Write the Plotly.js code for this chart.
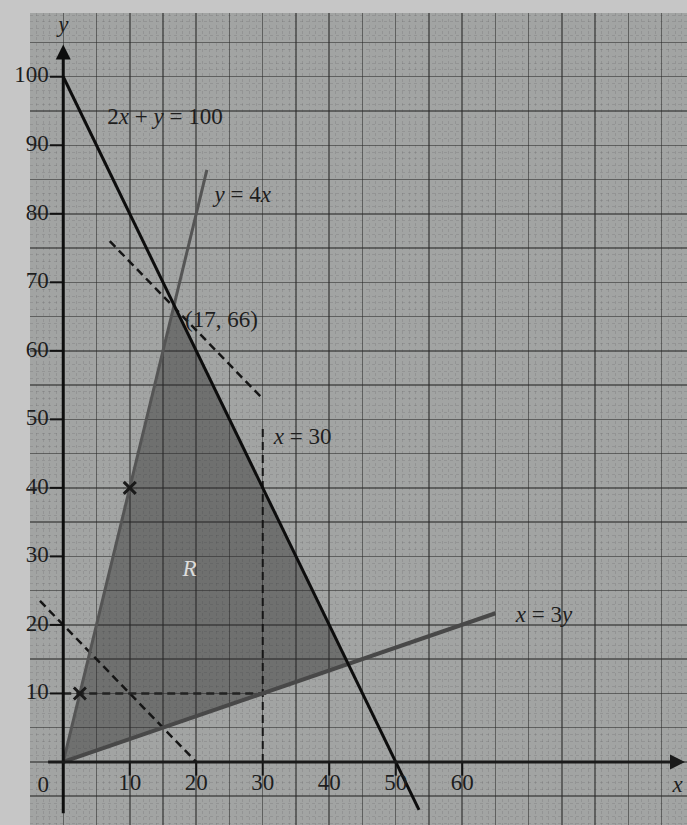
<!DOCTYPE html>
<html>
<head>
<meta charset="utf-8">
<script src="https://cdn.plot.ly/plotly-3.0.1.min.js"></script>
<style>
  body { margin: 0; background: #c6c6c6; }
  #chart { width: 687px; height: 825px; }
</style>
</head>
<body>
<div id="chart"></div>
<script>
// tick values on both axes
var tickX = [10, 20, 30, 40, 50, 60];
var tickY = [10, 20, 30, 40, 50, 60, 70, 80, 90, 100];

// constraint lines (end points)
var lineA_x = [0, 53.5];   var lineA_y = [100, -7];    // 2x + y = 100
var lineB_x = [0, 21.6];   var lineB_y = [0, 86.4];    // y = 4x
var lineC_x = [0, 65];     var lineC_y = [0, 21.7];    // x = 3y

// dashed guide lines
var dashObj_x = [7, 30];     var dashObj_y = [76, 53];
var dashLow_x = [-3.5, 20];  var dashLow_y = [23.5, 0];
var dashV_x = [30, 30];      var dashV_y = [0, 49];
var dashH_x = [0, 31];       var dashH_y = [10, 10];

// feasible region R
var regionX = [0, 16.67, 42.86, 0];
var regionY = [0, 66.67, 14.29, 0];

// points marked on y = 4x
var markX = [2.5, 10];
var markY = [10, 40];

// text labels
var labelText = ['2<i>x</i> + <i>y</i> = 100', '<i>y</i> = 4<i>x</i>', '(17, 66)',
                 '<i>x</i> = 30', '<i>x</i> = 3<i>y</i>', '<i>y</i>', '<i>x</i>', '0'];
var labelX = [15.3, 27, 23.8, 36, 72.3, 0, 92.4, -3];
var labelY = [94, 82.5, 64.3, 47.3, 21.2, 107.3, -3.5, -3.5];

var font = 'Liberation Serif, Times New Roman, serif';

// tick mark segments
var tmx = [], tmy = [];
tickX.forEach(function (v) { tmx.push(v, v, null); tmy.push(-2, 0, null); });
tickY.forEach(function (v) { tmx.push(-2, 0, null); tmy.push(v, v, null); });

var data = [
  {x: regionX, y: regionY, mode: 'lines', fill: 'toself',
   fillcolor: 'rgba(40,40,40,0.42)', line: {width: 0}},
  {x: dashObj_x, y: dashObj_y, mode: 'lines', line: {color: '#151515', width: 2.5, dash: '8px,5px'}},
  {x: dashLow_x, y: dashLow_y, mode: 'lines', line: {color: '#151515', width: 2.5, dash: '8px,5px'}},
  {x: dashV_x, y: dashV_y, mode: 'lines', line: {color: '#151515', width: 2, dash: '8px,5px'}},
  {x: dashH_x, y: dashH_y, mode: 'lines', line: {color: '#222', width: 2.5, dash: '8px,5px'}},
  {x: lineB_x, y: lineB_y, mode: 'lines', line: {color: '#555', width: 3}},
  {x: lineC_x, y: lineC_y, mode: 'lines', line: {color: '#484848', width: 4}},
  {x: lineA_x, y: lineA_y, mode: 'lines', line: {color: '#0d0d0d', width: 3}},
  {x: tmx, y: tmy, mode: 'lines', line: {color: '#111', width: 2}},
  {x: markX, y: markY, mode: 'markers',
   marker: {symbol: 'x-thin', size: 12, line: {color: '#1a1a1a', width: 3}}},
  {x: Array(tickY.length).fill(-2.2), y: tickY, mode: 'text', cliponaxis: false,
   text: tickY.map(String), textposition: 'middle left',
   textfont: {family: font, size: 23, color: '#1e1e1e'}},
  {x: tickX, y: Array(tickX.length).fill(-1.6), mode: 'text', cliponaxis: false,
   text: tickX.map(String), textposition: 'bottom center',
   textfont: {family: font, size: 23, color: '#1e1e1e'}},
  {x: labelX, y: labelY, mode: 'text', text: labelText, textposition: 'middle center',
   cliponaxis: false, textfont: {family: font, size: 23, color: '#1e1e1e'}},
  {x: [19], y: [28], mode: 'text', text: ['<i>R</i>'], textposition: 'middle center',
   textfont: {family: font, size: 23, color: '#dcdcdc'}}
];

var layout = {
  width: 687,
  height: 825,
  margin: {l: 30, r: 0, t: 13, b: 0},
  paper_bgcolor: '#c6c6c6',
  plot_bgcolor: '#a2a4a3',
  showlegend: false,
  hovermode: false,
  xaxis: {
    range: [-5, 93.8], tick0: 0, dtick: 5, showticklabels: false, ticks: '',
    zeroline: false, showgrid: true, gridcolor: 'rgba(40,40,40,0.55)', gridwidth: 1.5,
    minor: {dtick: 1, showgrid: true, gridcolor: 'rgba(60,60,60,0.14)', griddash: 'dot', gridwidth: 1}
  },
  yaxis: {
    range: [-9.2, 109.3], tick0: 0, dtick: 5, showticklabels: false, ticks: '',
    zeroline: false, showgrid: true, gridcolor: 'rgba(40,40,40,0.55)', gridwidth: 1.5,
    minor: {dtick: 1, showgrid: true, gridcolor: 'rgba(60,60,60,0.14)', griddash: 'dot', gridwidth: 1}
  },
  annotations: [
    {x: 0, y: 104.7, ax: 0, ay: -7.7, xref: 'x', yref: 'y', axref: 'x', ayref: 'y',
     text: '', showarrow: true, arrowhead: 2, arrowsize: 1, arrowwidth: 3, arrowcolor: '#0d0d0d'},
    {x: 93.5, y: 0, ax: -2.5, ay: 0, xref: 'x', yref: 'y', axref: 'x', ayref: 'y',
     text: '', showarrow: true, arrowhead: 2, arrowsize: 1, arrowwidth: 3, arrowcolor: '#1a1a1a'}
  ]
};

Plotly.newPlot('chart', data, layout, {staticPlot: true});
</script>
</body>
</html>
